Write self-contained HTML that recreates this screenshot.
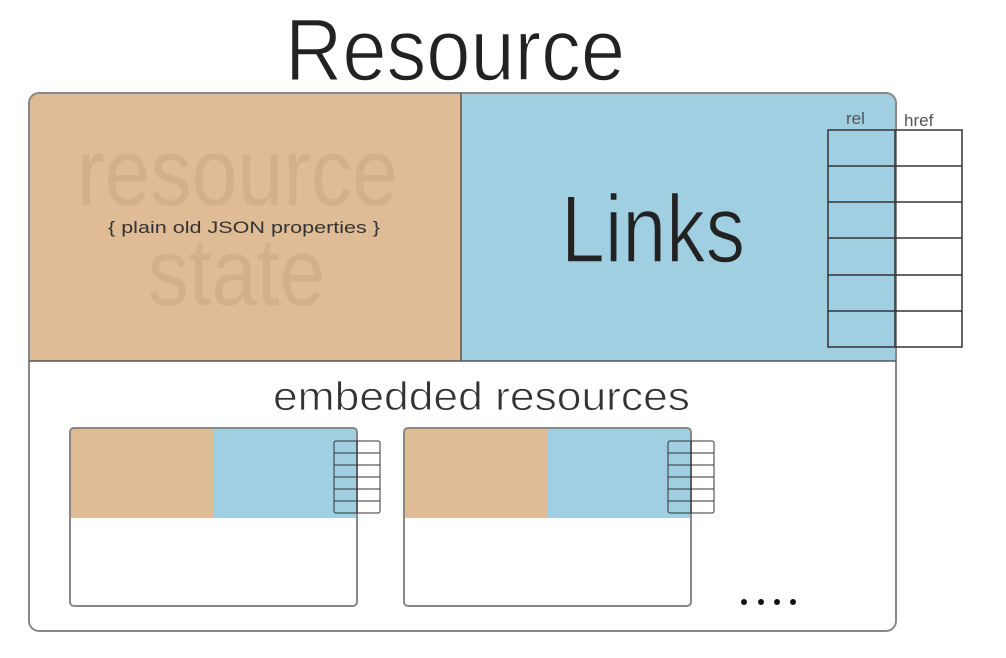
<!DOCTYPE html>
<html><head><style>html,body{margin:0;padding:0;background:#fff;width:1006px;height:658px;overflow:hidden}</style></head>
<body>
<svg width="1006" height="658" viewBox="0 0 1006 658" xmlns="http://www.w3.org/2000/svg" font-family="Liberation Sans, sans-serif">
<rect x="0" y="0" width="1006" height="658" fill="#fff"/>
<text x="285" y="80" font-size="88" textLength="340" lengthAdjust="spacingAndGlyphs" fill="#222" stroke="#fff" stroke-width="1.5" paint-order="normal">Resource</text>
<defs><clipPath id="oc"><rect x="29" y="93" width="867" height="538" rx="10"/></clipPath></defs>
<g clip-path="url(#oc)">
<rect x="29" y="93" width="432" height="268" fill="#dfbb96"/>
<rect x="461" y="93" width="435" height="268" fill="#9fcfe0"/>
</g>
<rect x="29" y="93" width="867" height="538" rx="10" fill="none" stroke="#888" stroke-width="2"/>
<line x1="29" y1="361" x2="896" y2="361" stroke="#555" stroke-width="1.5"/>
<line x1="461" y1="93" x2="461" y2="361" stroke="#555" stroke-width="1.5"/>
<text x="77" y="205" font-size="96" textLength="321" lengthAdjust="spacingAndGlyphs" fill="#d3b08c">resource</text>
<text x="148" y="305" font-size="96" textLength="177" lengthAdjust="spacingAndGlyphs" fill="#d3b08c">state</text>
<text x="108" y="233" font-size="17" textLength="272" lengthAdjust="spacingAndGlyphs" fill="#333">{ plain old JSON properties }</text>
<text x="561" y="262" font-size="96" textLength="184" lengthAdjust="spacingAndGlyphs" fill="#222" stroke="#9fcfe0" stroke-width="1.5">Links</text>
<text x="846" y="124" font-size="17" fill="#555">rel</text>
<text x="904" y="126" font-size="17" fill="#555">href</text>
<g stroke="#333" stroke-width="1.5" fill="none">
<rect x="828" y="130" width="134" height="217"/>
<line x1="895" y1="130" x2="895" y2="347"/>
<line x1="828" y1="166" x2="962" y2="166"/>
<line x1="828" y1="202" x2="962" y2="202"/>
<line x1="828" y1="238" x2="962" y2="238"/>
<line x1="828" y1="275" x2="962" y2="275"/>
<line x1="828" y1="311" x2="962" y2="311"/>
</g>
<text x="273" y="410" font-size="40" textLength="417" lengthAdjust="spacingAndGlyphs" fill="#333" stroke="#fff" stroke-width="0.8">embedded resources</text>
<g id="e1">
<rect x="70" y="428" width="144" height="90" fill="#dfbb96"/>
<rect x="214" y="428" width="143" height="90" fill="#9fcfe0"/>
<rect x="70" y="428" width="287" height="178" rx="4" fill="none" stroke="#888" stroke-width="2"/>
<g stroke="#333" stroke-width="1" fill="none">
<rect x="334" y="441" width="46" height="72" rx="2"/>
<line x1="357" y1="441" x2="357" y2="513"/>
<line x1="334" y1="453" x2="380" y2="453"/>
<line x1="334" y1="465" x2="380" y2="465"/>
<line x1="334" y1="477" x2="380" y2="477"/>
<line x1="334" y1="489" x2="380" y2="489"/>
<line x1="334" y1="501" x2="380" y2="501"/>
</g>
</g>
<use href="#e1" x="334" y="0"/>
<g fill="#111"><circle cx="744" cy="602" r="3"/><circle cx="761" cy="602" r="3"/><circle cx="777" cy="602" r="3"/><circle cx="793" cy="602" r="3"/></g>
</svg>
</body></html>
